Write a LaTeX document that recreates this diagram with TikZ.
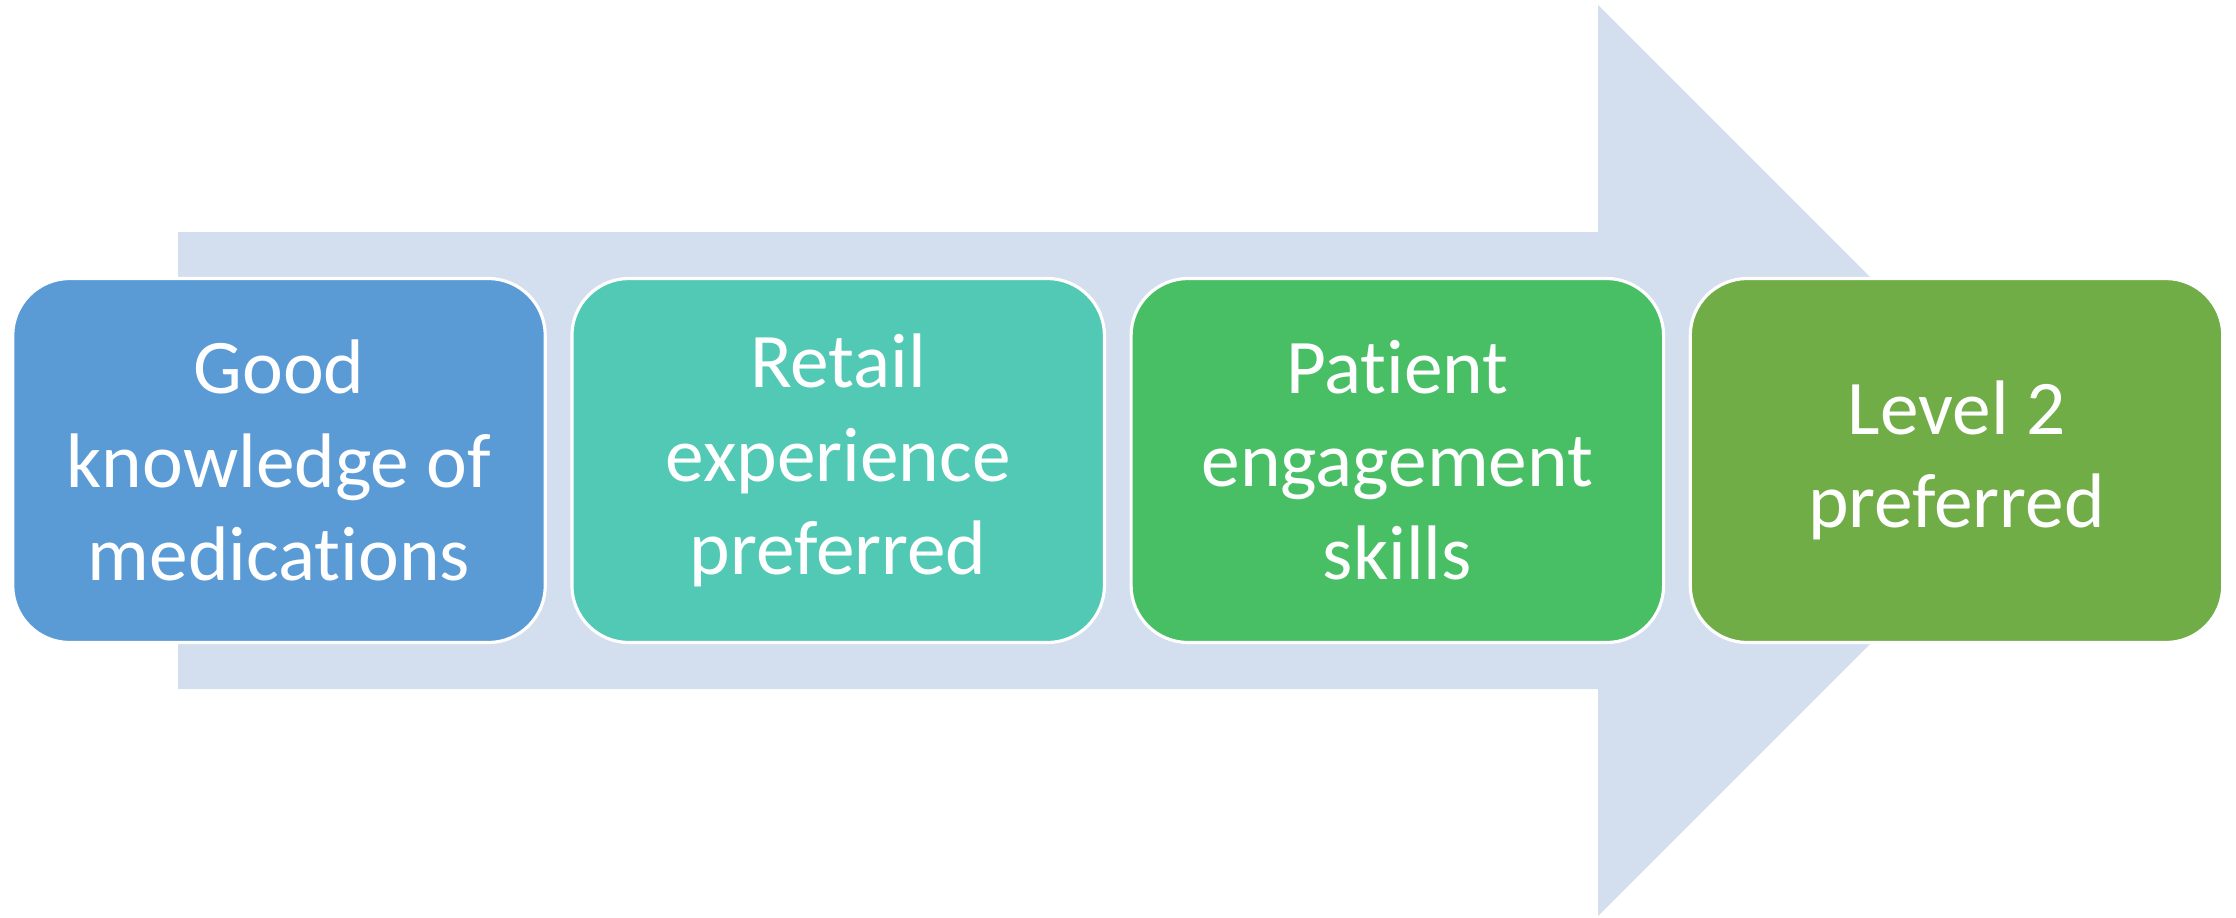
\documentclass[tikz,border=0pt]{standalone}
\usepackage{fontspec}
\setmainfont[Ligatures=NoCommon]{Carlito}
\usetikzlibrary{positioning}
\definecolor{arrowbg}{HTML}{D3DEEF}
\definecolor{stepblue}{HTML}{5B9BD5}
\definecolor{stepteal}{HTML}{52C9B5}
\definecolor{stepgreen}{HTML}{49BF65}
\definecolor{stepolive}{HTML}{70AD47}
\begin{document}
\begin{tikzpicture}[x=1mm,y=1mm,
		stepbox/.style={draw=white,line width=0.9pt,rounded corners=5.7mm,
			minimum width=53.25mm,minimum height=36.4mm,inner sep=0pt,
			align=center,text=white,font=\fontsize{22}{26.5}\selectfont}]
		\useasboundingbox (0,0) rectangle (223.6,91.7);
		% big arrow in the background
		\fill[color=arrowbg] (17.8,68.5) -- (159.8,68.5) -- (159.8,91.2) -- (205.35,45.65)
			-- (159.8,0.1) -- (159.8,22.8) -- (17.8,22.8) -- cycle;
		\node[stepbox,fill=stepblue] (knowledge) at (27.9,45.65) {Good\\knowledge of\\medications};
		\node[stepbox,fill=stepteal,right=2.35mm of knowledge] (retail) {Retail\\experience\\preferred};
		\node[stepbox,fill=stepgreen,right=2.35mm of retail] (engagement) {Patient\\engagement\\skills};
		\node[stepbox,fill=stepolive,right=2.35mm of engagement] (level) {Level 2\\preferred};
	\end{tikzpicture}
\end{document}
